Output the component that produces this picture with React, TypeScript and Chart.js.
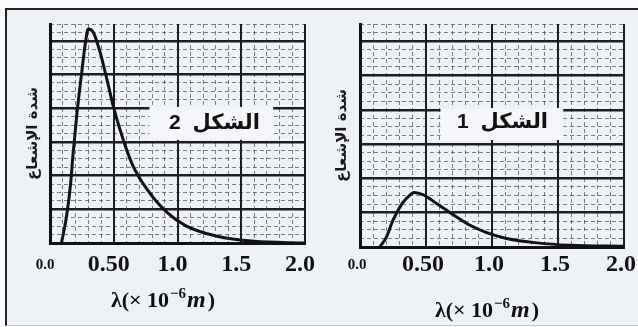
import { useEffect, useRef } from "react";
import { Chart, registerables } from "chart.js";

Chart.register(...registerables);

// ---- data ----
const xTickValues = [0, 0.5, 1, 1.5, 2];
const xTickLabels = ["0.0", "0.50", "1.0", "1.5", "2.0"];

const lambdaFig2 = [0.09, 0.13, 0.16, 0.18, 0.21, 0.25, 0.28, 0.3, 0.34, 0.39, 0.45, 0.5, 0.58, 0.65, 0.76, 0.92, 1.07, 1.31, 1.6, 2.0];
const intensityFig2 = [0, 0.8, 1.7, 2.6, 3.8, 5.1, 6.0, 6.35, 6.25, 5.7, 4.8, 4.0, 3.0, 2.3, 1.6, 0.9, 0.5, 0.2, 0.05, 0.0];

const lambdaFig1 = [0.15, 0.2, 0.25, 0.32, 0.38, 0.41, 0.48, 0.58, 0.71, 0.83, 0.96, 1.11, 1.34, 1.59, 2.0];
const intensityFig1 = [0, 0.29, 0.78, 1.27, 1.52, 1.59, 1.52, 1.27, 0.93, 0.64, 0.42, 0.25, 0.12, 0.05, 0.02];

const figureLabels = ["الشكل 2", "الشكل 1"];
const yTitleText = "شدة الإشعاع";
const xTitleParts = ["λ(× 10", "−6", "m", ")"];

const Y_MAX = 6.5;
const X_MAX = 2;

const near = (v: number, step: number) => Math.abs(v / step - Math.round(v / step)) < 1e-6;

const figureText = {
  id: "figureText",
  beforeDatasetsDraw(chart: any, _a: any, opts: any) {
    const { ctx } = chart;
    const xs = chart.scales.x;
    const ys = chart.scales.y;
    const x0 = xs.getPixelForValue(opts.box[0]);
    const x1 = xs.getPixelForValue(opts.box[1]);
    const y0 = ys.getPixelForValue(opts.box[2]);
    const y1 = ys.getPixelForValue(opts.box[3]);
    ctx.save();
    ctx.fillStyle = "#f4f6fa";
    ctx.fillRect(Math.min(x0, x1), Math.min(y0, y1), Math.abs(x1 - x0), Math.abs(y1 - y0));
    ctx.fillStyle = "#111";
    ctx.font = 'bold 21px "Liberation Sans", "DejaVu Sans", sans-serif';
    ctx.direction = "rtl";
    ctx.textAlign = "center";
    ctx.textBaseline = "middle";
    try {
      (ctx as any).wordSpacing = "6px";
    } catch (e) {}
    ctx.fillText(opts.label, xs.getPixelForValue(opts.labelAt[0]), ys.getPixelForValue(opts.labelAt[1]));
    ctx.restore();
  },
  afterDraw(chart: any, _a: any, opts: any) {
    const { ctx, chartArea } = chart;
    const fonts = [
      'bold 22px "Liberation Serif", "DejaVu Serif", serif',
      'bold 15px "Liberation Serif", "DejaVu Serif", serif',
      'italic bold 24px "Liberation Serif", "DejaVu Serif", serif',
      'bold 22px "Liberation Serif", "DejaVu Serif", serif',
    ];
    const rise = [0, -9, 0, 0];
    const extra = [1, 1, 2, 0];
    ctx.save();
    ctx.fillStyle = "#111";
    ctx.textAlign = "left";
    ctx.textBaseline = "alphabetic";
    ctx.direction = "ltr";
    let total = 0;
    const widths = xTitleParts.map((t, i) => {
      ctx.font = fonts[i];
      const w = ctx.measureText(t).width + extra[i];
      total += w;
      return w;
    });
    let x = (chartArea.left + chartArea.right) / 2 + opts.titleDx - total / 2;
    const base = chartArea.bottom + opts.titleBaseline;
    xTitleParts.forEach((t, i) => {
      ctx.font = fonts[i];
      ctx.fillText(t, x, base + rise[i]);
      x += widths[i];
    });
    ctx.restore();
  },
};

type PanelProps = {
  lambda: number[];
  intensity: number[];
  label: string;
  padding: { left: number; right: number; top: number; bottom: number };
  yWidth: number;
  xHeight: number;
  labelOffset: number;
  tickPad: number;
  box: number[];
  labelAt: number[];
  titleDx: number;
  titleBaseline: number;
};

function Panel(p: PanelProps) {
  const ref = useRef<HTMLCanvasElement>(null);
  useEffect(() => {
    if (!ref.current) return;
    const majorColor = "#1e1e1e";
    const minorColor = "rgba(45,45,55,0.6)";
    const chart = new Chart(ref.current, {
      type: "line",
      data: {
        datasets: [
          {
            data: p.lambda.map((x, i) => ({ x, y: p.intensity[i] })),
            borderColor: "#121212",
            borderWidth: 3,
            pointRadius: 0,
            cubicInterpolationMode: "monotone",
            fill: false,
          },
        ],
      },
      plugins: [figureText],
      options: {
        animation: false,
        responsive: true,
        maintainAspectRatio: false,
        layout: { padding: p.padding },
        plugins: {
          legend: { display: false },
          tooltip: { enabled: false },
          figureText: {
            label: p.label,
            box: p.box,
            labelAt: p.labelAt,
            titleDx: p.titleDx,
            titleBaseline: p.titleBaseline,
          },
        } as any,
        scales: {
          xm: {
            type: "linear",
            position: "bottom",
            min: 0,
            max: X_MAX,
            ticks: { display: false, stepSize: 0.1, autoSkip: false },
            grid: {
              drawTicks: false,
              lineWidth: 1,
              color: (c: any) => (near(c.tick.value, 0.5) ? "rgba(0,0,0,0)" : minorColor),
            },
            border: { display: false, dash: [4, 3] },
            afterFit: (s: any) => {
              s.height = 0;
              s.paddingLeft = 0;
              s.paddingRight = 0;
            },
          },
          ym: {
            type: "linear",
            position: "left",
            min: 0,
            max: Y_MAX,
            ticks: { display: false, stepSize: 0.25, autoSkip: false },
            grid: {
              drawTicks: false,
              lineWidth: 1,
              color: (c: any) => (near(c.tick.value, 1) ? "rgba(0,0,0,0)" : minorColor),
            },
            border: { display: false, dash: [4, 3] },
            afterFit: (s: any) => {
              s.width = 0;
            },
          },
          x: {
            type: "linear",
            position: "bottom",
            min: 0,
            max: X_MAX,
            ticks: {
              stepSize: 0.5,
              autoSkip: false,
              maxRotation: 0,
              minRotation: 0,
              padding: p.tickPad,
              labelOffset: p.labelOffset,
              color: "#111",
              font: (c: any) =>
                c.tick && Math.abs(c.tick.value) < 0.01
                  ? { family: '"Liberation Serif", serif', size: 15, weight: "bold", lineHeight: "28.8px" }
                  : { family: '"Liberation Serif", serif', size: 24, weight: "bold", lineHeight: "28.8px" },
              callback: (v: any) => {
                const i = xTickValues.findIndex((t) => Math.abs(t - Number(v)) < 1e-6);
                return i >= 0 ? xTickLabels[i] : "";
              },
            },
            grid: {
              drawTicks: false,
              lineWidth: 2,
              color: (c: any) => (near(c.tick.value, 0.5) ? majorColor : "rgba(0,0,0,0)"),
            },
            border: { display: true, color: "#111", width: 3 },
            afterFit: (s: any) => {
              s.height = p.xHeight;
              s.paddingLeft = 0;
              s.paddingRight = 0;
            },
          },
          y: {
            type: "linear",
            position: "left",
            min: 0,
            max: Y_MAX,
            ticks: { display: false, stepSize: 1 },
            grid: {
              drawTicks: false,
              lineWidth: 2.5,
              color: (c: any) => (near(c.tick.value, 1) ? majorColor : "rgba(0,0,0,0)"),
            },
            border: { display: true, color: "#111", width: 3 },
            title: {
              display: true,
              text: yTitleText,
              color: "#1a1a1a",
              font: { family: '"DejaVu Sans", sans-serif', size: 15, weight: "bold", lineHeight: 1.2 },
              padding: { top: 3, bottom: 0 },
            },
            afterFit: (s: any) => {
              s.width = p.yWidth;
            },
          },
        },
      } as any,
    });
    return () => chart.destroy();
  }, []);
  return <canvas ref={ref} />;
}

export default function App() {
  return (
    <div
      style={{
        position: "fixed",
        left: 0,
        top: 0,
        width: 638,
        height: 327,
        background: "#fafbfd",
        overflow: "hidden",
      }}
    >
      <div
        style={{
          position: "absolute",
          left: 5,
          top: 8,
          width: 660,
          height: 315,
          borderLeft: "2px solid #222",
          borderTop: "2px solid #222",
          borderBottom: "1px solid #d8c6ae",
          background: "#eef1f6",
        }}
      />
      <div style={{ position: "absolute", left: 0, top: 0, width: 320, height: 327 }}>
        <Panel
          lambda={lambdaFig2}
          intensity={intensityFig2}
          label={figureLabels[0]}
          padding={{ left: 21, right: 15, top: 24, bottom: 0 }}
          yWidth={29}
          xHeight={84}
          labelOffset={-5}
          tickPad={7.6}
          box={[0.78, 1.75, 4.04, 3.06]}
          labelAt={[1.29, 3.56]}
          titleDx={-14.5}
          titleBaseline={64}
        />
      </div>
      <div style={{ position: "absolute", left: 320, top: 0, width: 318, height: 327 }}>
        <Panel
          lambda={lambdaFig1}
          intensity={intensityFig1}
          label={figureLabels[1]}
          padding={{ left: 10, right: 14, top: 24, bottom: 0 }}
          yWidth={30}
          xHeight={80}
          labelOffset={-3}
          tickPad={3.6}
          box={[0.61, 1.54, 4.05, 3.12]}
          labelAt={[1.08, 3.64]}
          titleDx={-5}
          titleBaseline={70}
        />
      </div>
    </div>
  );
}
